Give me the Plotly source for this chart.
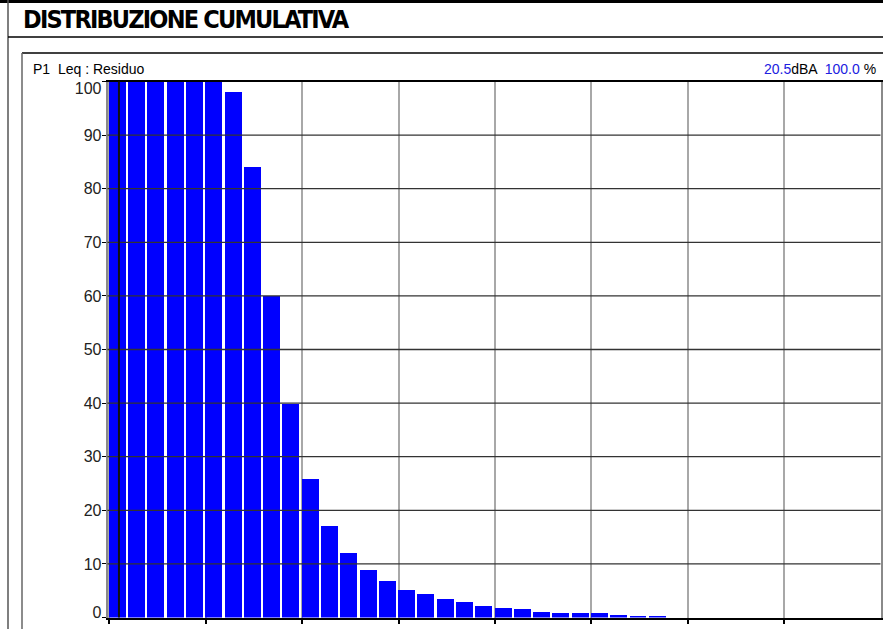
import plotly.graph_objects as go

# ---- data ----
level_db = [20, 21, 22, 23, 24, 25, 26, 27, 28, 29, 30, 31, 32, 33, 34, 35, 36, 37,
            38, 39, 40, 41, 42, 43, 44, 45, 46, 47, 48]
cumulative_pct = [100, 100, 100, 100, 100, 100, 98.1, 84.1, 60.0, 40.0, 25.9, 17.1,
                  12.2, 8.9, 6.9, 5.3, 4.4, 3.6, 2.9, 2.3, 1.8, 1.6, 1.2, 1.0, 1.0,
                  0.85, 0.5, 0.45, 0.3]
x_ticks = [20, 25, 30, 35, 40, 45, 50, 55, 60]
y_ticks = [0, 10, 20, 30, 40, 50, 60, 70, 80, 90, 100]
cursor_db = 20.5
cursor_pct = 100.0
title_text = "DISTRIBUZIONE CUMULATIVA"
panel_label = "P1  Leq : Residuo"

W, H = 883, 629


def px(x):
    return x / W


def py(y):
    return 1 - y / H


bar_x = [v + 0.39 for v in level_db]
# end labels of the y axis are nudged inside the plot (as in the original)
y_label_pos = [v + (1.0 if v == 0 else (-1.3 if v == 100 else 0)) for v in y_ticks]

fig = go.Figure()
fig.add_trace(go.Bar(
    x=bar_x, y=cumulative_pct, width=0.88,
    marker=dict(color="#0000ff", line=dict(width=0)),
    hoverinfo="x+y", showlegend=False,
))
# invisible trace to activate the label axis
fig.add_trace(go.Scatter(x=[cursor_db], y=[cursor_pct], yaxis="y2", mode="markers",
                         marker=dict(opacity=0), hoverinfo="skip", showlegend=False))

shapes = []
# horizontal grid lines above bars
for v in y_ticks[1:-1]:
    shapes.append(dict(type="line", xref="x domain", yref="y", x0=0, x1=1, y0=v, y1=v,
                       line=dict(color="#333333", width=1.3), layer="above"))
# cursor line
shapes.append(dict(type="line", xref="x", yref="y domain", x0=cursor_db, x1=cursor_db,
                   y0=0, y1=1, line=dict(color="#111111", width=2), layer="above"))
# page frame
shapes += [
    dict(type="line", xref="paper", yref="paper", x0=0, x1=1, y0=py(1.5), y1=py(1.5),
         line=dict(color="black", width=3)),
    dict(type="line", xref="paper", yref="paper", x0=px(8), x1=px(8), y0=0, y1=1,
         line=dict(color="#555555", width=1.5)),
    dict(type="line", xref="paper", yref="paper", x0=px(8), x1=1, y0=py(37), y1=py(37),
         line=dict(color="black", width=1.5)),
    dict(type="line", xref="paper", yref="paper", x0=px(22), x1=1, y0=py(53), y1=py(53),
         line=dict(color="black", width=1.5)),
    dict(type="line", xref="paper", yref="paper", x0=px(22), x1=px(22), y0=0, y1=py(53),
         line=dict(color="#666666", width=1.5)),
]

annotations = [
    dict(text='<b><span style="letter-spacing:-1.8px">%s</span></b>' % title_text,
         xref="paper", yref="paper", x=px(21), y=py(20),
         xanchor="left", yanchor="middle", showarrow=False,
         font=dict(family="Liberation Sans Narrow, DejaVu Sans Condensed, Arial Narrow, sans-serif",
                   size=25, color="black")),
    dict(text=panel_label, xref="paper", yref="paper", x=px(31), y=py(69),
         xanchor="left", yanchor="middle", showarrow=False,
         font=dict(family="Liberation Sans, Arial, sans-serif", size=14, color="black")),
    dict(text='<span style="color:#2020e0">%.1f</span>dBA  <span style="color:#2020e0">%.1f</span> %%'
              % (cursor_db, cursor_pct),
         xref="paper", yref="paper", x=px(878), y=py(69),
         xanchor="right", yanchor="middle", showarrow=False,
         font=dict(family="Liberation Sans, Arial, sans-serif", size=14, color="black")),
]

tick_font = dict(family="Liberation Sans, Arial, sans-serif", size=16, color="#222222")
y_domain = [py(617.5), py(81.5)]

fig.update_layout(
    template="none",
    width=W, height=H, autosize=False,
    margin=dict(l=0, r=0, t=0, b=0, pad=0),
    paper_bgcolor="white", plot_bgcolor="white",
    bargap=0,
    shapes=shapes, annotations=annotations,
    xaxis=dict(
        domain=[px(107.5), px(880.5)], range=[19.907, 59.99], automargin=False,
        tickmode="array", tickvals=x_ticks, ticktext=[str(t) for t in x_ticks],
        ticks="outside", ticklen=5, tickcolor="black", tickwidth=1.5,
        showgrid=True, gridcolor="#a8a8a8", gridwidth=2,
        showline=True, linecolor="black", linewidth=1.5, mirror=True,
        zeroline=False, tickfont=tick_font,
    ),
    yaxis=dict(
        domain=y_domain, range=[0, 100], automargin=False,
        tickmode="array", tickvals=y_ticks, showticklabels=False,
        ticks="outside", ticklen=4, tickcolor="black", tickwidth=1,
        showgrid=False,
        showline=True, linecolor="#8a8a8a", linewidth=2, mirror=True,
        zeroline=False,
    ),
    yaxis2=dict(
        overlaying="y", side="left", range=[0, 100], automargin=False,
        tickmode="array", tickvals=y_label_pos, ticktext=[str(t) for t in y_ticks],
        ticks="", ticklabelstandoff=5, showgrid=False, showline=False, zeroline=False,
        tickfont=tick_font,
    ),
)

fig.write_html("out.html", config={"displayModeBar": False},
               post_script="document.body.style.margin='0';")
